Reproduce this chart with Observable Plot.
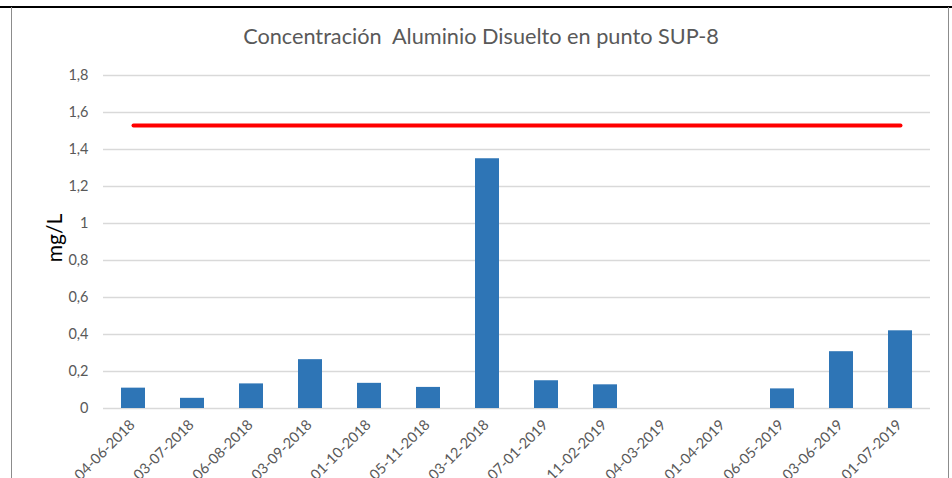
<!DOCTYPE html>
<html><head><meta charset="utf-8">
<script src="https://cdn.jsdelivr.net/npm/d3@7"></script>
<script src="https://cdn.jsdelivr.net/npm/@observablehq/plot@0.6"></script>
<style>
body{margin:0;background:#fff;}
#wrap{position:relative;width:952px;height:478px;overflow:hidden;font-family:Lato,sans-serif;}
#chart{position:absolute;left:0;top:0;}
#title{position:absolute;left:0;width:962px;top:23px;text-align:center;font-size:21.7px;color:#595959;white-space:pre;}
#ylab{position:absolute;left:53px;top:238px;transform:translate(-50%,-50%) rotate(-90deg);font-size:21px;color:#000;white-space:nowrap;}
.ln{position:absolute;}
</style></head>
<body>
<div id="wrap">
  <div id="chart"></div>
  <div class="ln" style="left:0;top:6px;width:952px;height:2px;background:#000"></div>
  <div class="ln" style="left:11px;top:7px;width:1px;height:471px;background:#8c8c8c"></div>
  <div class="ln" style="left:948px;top:7px;width:1px;height:471px;background:#8c8c8c"></div>
  <div id="title">Concentración  Aluminio Disuelto en punto SUP-8</div>
  <div id="ylab">mg/L</div>
</div>
<script>
const fechas = ["04-06-2018","03-07-2018","06-08-2018","03-09-2018","01-10-2018","05-11-2018","03-12-2018","07-01-2019","11-02-2019","04-03-2019","01-04-2019","06-05-2019","03-06-2019","01-07-2019"];
const aluminio = [0.11, 0.055, 0.133, 0.264, 0.136, 0.114, 1.35, 0.15, 0.128, null, null, 0.106, 0.307, 0.42];
const limite = [1.53,1.53,1.53,1.53,1.53,1.53,1.53,1.53,1.53,1.53,1.53,1.53,1.53,1.53];
const ticksY = [0, 0.2, 0.4, 0.6, 0.8, 1, 1.2, 1.4, 1.6, 1.8];

const data = fechas.map((f, i) => ({fecha: f, valor: aluminio[i], limite: limite[i]}));
const fmt = d => String(d).replace(".", ",");

const chart = Plot.plot({
  width: 952, height: 478,
  marginLeft: 103, marginRight: 22, marginTop: 75, marginBottom: 70,
  style: {fontFamily: "Lato, sans-serif", fontSize: "14px", color: "#595959", background: "transparent", overflow: "visible"},
  x: {type: "band", domain: fechas, paddingInner: 0.6, paddingOuter: 0.3, label: null},
  y: {domain: [0, 1.8], label: null},
  marks: [
    Plot.gridY(ticksY, {stroke: "#d9d9d9", strokeOpacity: 1, strokeWidth: 1.3}),
    Plot.barY(data.filter(d => d.valor != null), {x: "fecha", y: "valor", fill: "#2e75b6"}),
    Plot.line(data, {x: "fecha", y: "limite", stroke: "#ff0000", strokeWidth: 4, strokeLinecap: "round"}),
    Plot.axisY(ticksY, {tickSize: 0, tickPadding: 15, tickFormat: fmt, label: null, fill: "#595959", fontSize: 14.5}),
    Plot.axisX({tickSize: 0, tickRotate: -45, tickPadding: 8, dy: 6, dx: -1, label: null, fill: "#595959", fontSize: 14.5})
  ]
});
document.getElementById("chart").append(chart);
</script>
</body></html>
